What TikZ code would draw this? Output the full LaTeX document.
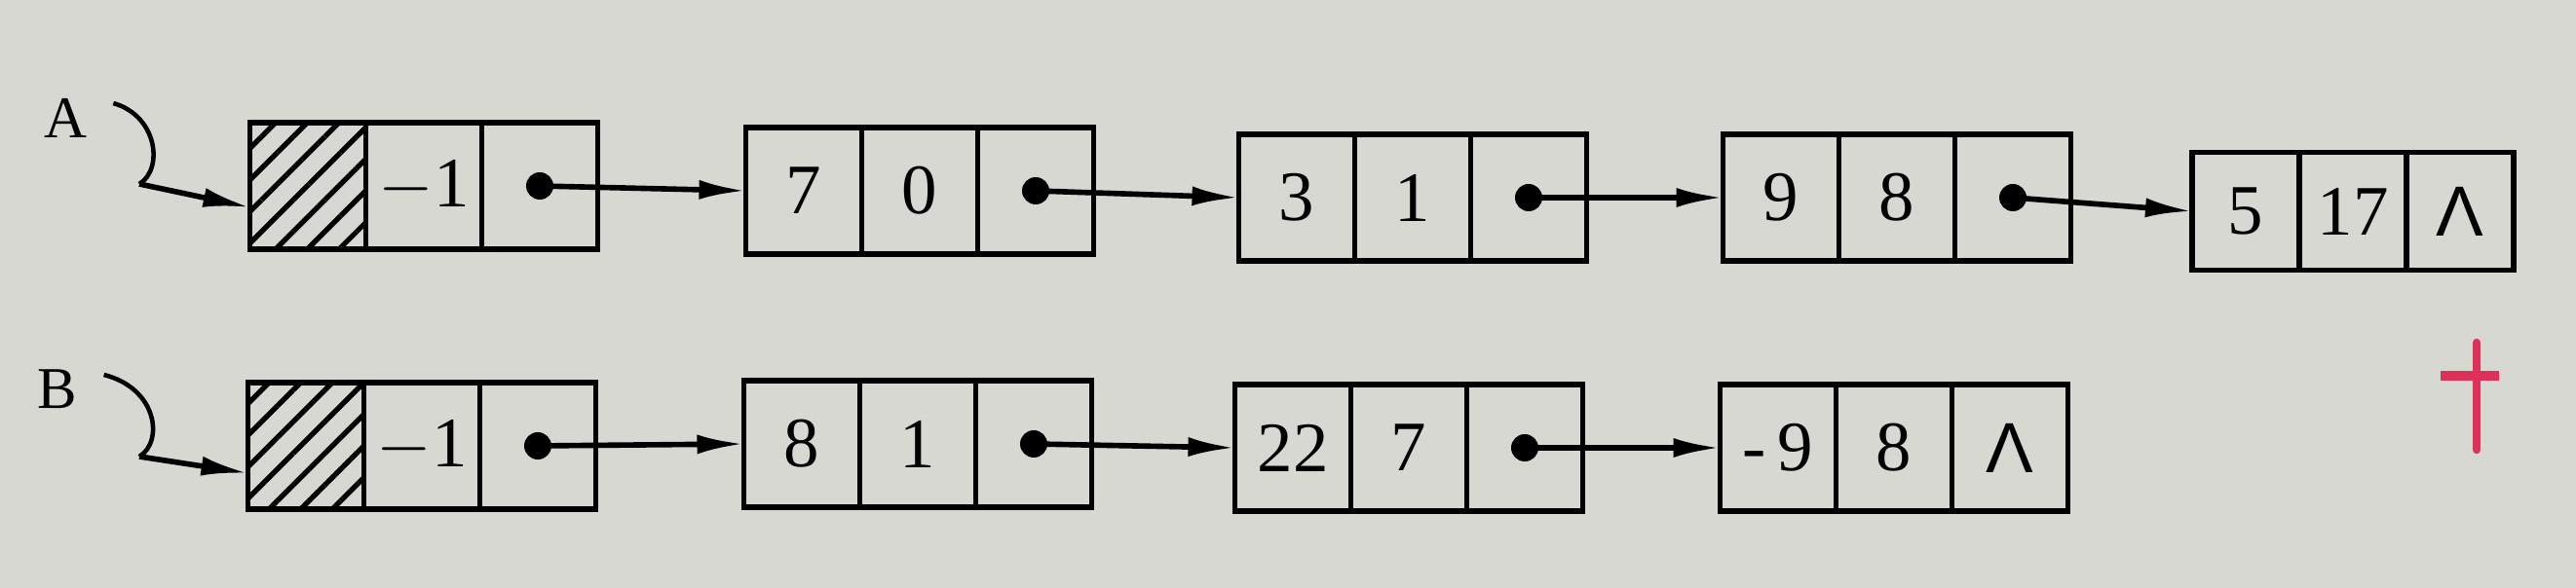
\documentclass[tikz,border=0pt]{standalone}
\usepackage{fontspec}
\setmainfont{Liberation Serif}
\newfontfamily\lamfont{Liberation Sans}
\usetikzlibrary{positioning,arrows.meta,patterns.meta}
\definecolor{paper}{RGB}{216,216,211}
\definecolor{pen}{RGB}{222,48,88}
\tikzset{
  cell/.style={draw, line width=1.6pt, minimum width=1.19cm, minimum height=1.3cm,
    inner sep=0pt, outer sep=0pt, font=\huge},
  last/.style={cell, minimum width=1.1cm, minimum height=1.21cm},
  head/.style={pattern={Lines[angle=45,distance=2.3mm,line width=1.5pt]}},
  dot/.style={circle, fill, inner sep=0pt, minimum size=2.8mm},
  link/.style={line width=1.6pt, -{Latex[length=4.8mm,width=2mm]}},
  curl/.style={line width=1.3pt},
}
\begin{document}
\begin{tikzpicture}
\fill[paper] (0,0) rectangle (26.44,6.04);
\useasboundingbox (0,0) rectangle (26.44,6.04);
% list A
\node[font=\LARGE] (la) at (0.67,4.83) {A};
\node[cell] (a1e) at (4.35,4.13) {$-$1};
\node[cell,head,left=0pt of a1e] (a1h) {};
\node[cell,right=0pt of a1e] (a1p) {};
\node[cell] (a2e) at (9.44,4.08) {0};
\node[cell,left=0pt of a2e] (a2k) {7};
\node[cell,right=0pt of a2e] (a2p) {};
\node[cell] (a3e) at (14.50,4.01) {1};
\node[cell,left=0pt of a3e] (a3k) {3};
\node[cell,right=0pt of a3e] (a3p) {};
\node[cell] (a4e) at (19.47,4.01) {8};
\node[cell,left=0pt of a4e] (a4k) {9};
\node[cell,right=0pt of a4e] (a4p) {};
\node[last] (a5e) at (24.15,3.87) {17};
\node[last,left=0pt of a5e] (a5k) {5};
\node[last,right=0pt of a5e] (a5p) {\lamfont Λ};
\node[dot] (a1d) at (a1p) {};
\node[dot] (a2d) at (a2p) {};
\node[dot] (a3d) at (a3p) {};
\node[dot] (a4d) at (a4p) {};
\coordinate (ka) at (1.43,4.15);
\path[draw,curl] ([xshift=1.5mm,yshift=1.5mm]la.east) .. controls (1.62,4.85) and (1.68,4.3) .. (ka);
\path[draw,link] (ka) -- ([yshift=-2.2mm]a1h.west);
\path[draw,link] (a1d.center) -- (a2k.west);
\path[draw,link] (a2d.center) -- (a3k.west);
\path[draw,link] (a3d.center) -- (a4k.west);
\path[draw,link] (a4d.center) -- (a5k.west);
% list B
\node[font=\LARGE] (lb) at (0.59,2.04) {B};
\node[cell] (b1e) at (4.33,1.46) {$-$1};
\node[cell,head,left=0pt of b1e] (b1h) {};
\node[cell,right=0pt of b1e] (b1p) {};
\node[cell] (b2e) at (9.42,1.48) {1};
\node[cell,left=0pt of b2e] (b2k) {8};
\node[cell,right=0pt of b2e] (b2p) {};
\node[cell] (b3e) at (14.46,1.44) {7};
\node[cell,left=0pt of b3e] (b3k) {22};
\node[cell,right=0pt of b3e] (b3p) {};
\node[cell] (b4e) at (19.44,1.44) {8};
\node[cell,left=0pt of b4e] (b4k) {-\,9};
\node[cell,right=0pt of b4e] (b4p) {\lamfont Λ};
\node[dot] (b1d) at (b1p) {};
\node[dot] (b2d) at (b2p) {};
\node[dot] (b3d) at (b3p) {};
\coordinate (kb) at (1.43,1.35);
\path[draw,curl] ([xshift=1.5mm,yshift=1.5mm]lb.east) .. controls (1.62,2.05) and (1.68,1.5) .. (kb);
\path[draw,link] (kb) -- ([yshift=-2.8mm]b1h.west);
\path[draw,link] (b1d.center) -- (b2k.west);
\path[draw,link] (b2d.center) -- (b3k.west);
\path[draw,link] (b3d.center) -- (b4k.west);
% red pen mark
\draw[pen,line width=2.4pt,line cap=round] (25.42,2.52) -- (25.42,1.42);
\draw[pen,line width=3pt] (25.05,2.18) -- (25.65,2.18);
\end{tikzpicture}
\end{document}
